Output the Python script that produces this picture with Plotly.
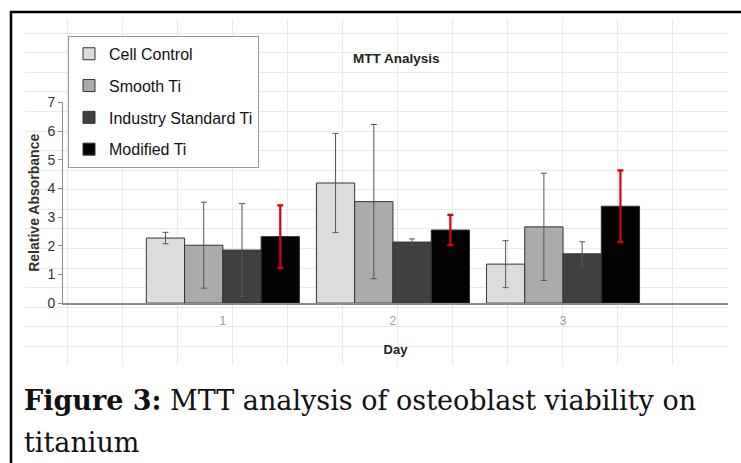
import plotly.graph_objects as go

# ---- data ----
days = ["1", "2", "3"]
series_names = ["Cell Control", "Smooth Ti", "Industry Standard Ti", "Modified Ti"]
cell_control = [2.27, 4.19, 1.36]
cell_control_err = [0.20, 1.73, 0.82]
smooth_ti = [2.02, 3.54, 2.66]
smooth_ti_err = [1.50, 2.69, 1.87]
industry_ti = [1.85, 2.13, 1.72]
industry_ti_err = [1.62, 0.11, 0.42]
modified_ti = [2.32, 2.55, 3.38]
modified_ti_err = [1.09, 0.53, 1.25]
y_ticks = [0, 1, 2, 3, 4, 5, 6, 7]

W, H = 741, 463
def px_x(p):
    return p / W
def px_y(p):
    # compensate the slight vertical squeeze of the photographed page
    q = (p - 7.1) / 0.967
    return 1 - q / H

values = [cell_control, smooth_ti, industry_ti, modified_ti]
errors = [cell_control_err, smooth_ti_err, industry_ti_err, modified_ti_err]
fills = ["#dcdcdc", "#ababab", "#404040", "#030303"]
err_colors = ["#555555", "#555555", "#555555", "#d8000e"]
err_thick = [1, 1, 1, 2.2]

fig = go.Figure()
# invisible trace so the background grid subplot is always built
fig.add_trace(go.Scatter(x=[None], y=[None], xaxis="x", yaxis="y",
                         showlegend=False, hoverinfo="skip"))
for i, name in enumerate(series_names):
    fig.add_trace(go.Bar(
        x=days, y=values[i], name=name,
        xaxis="x2", yaxis="y2",
        legendgroup=name,
        marker=dict(color=fills[i], line=dict(color="#333333", width=1)),
        error_y=dict(type="data", array=errors[i], visible=True,
                     color=err_colors[i], thickness=err_thick[i], width=3),
    ))

fig.update_layout(
    width=W, height=H,
    margin=dict(l=0, r=0, t=0, b=0),
    paper_bgcolor="white",
    plot_bgcolor="rgba(0,0,0,0)",
    barmode="group", bargap=0.1, bargroupgap=0,
    showlegend=True,
    legend=dict(
        x=px_x(68), y=px_y(35), xanchor="left", yanchor="top",
        bgcolor="white", bordercolor="#9a9a9a", borderwidth=1,
        font=dict(family="Liberation Sans", size=16, color="#111111"),
        tracegroupgap=8, itemwidth=30,
    ),
    # background paper grid
    xaxis=dict(domain=[px_x(25), px_x(728)], range=[-0.78, 12], dtick=1, tick0=0,
               showgrid=True, gridcolor="#e9e9e9", gridwidth=1.2,
               showticklabels=False, zeroline=False, showline=False, ticks="", fixedrange=True),
    yaxis=dict(domain=[px_y(365), px_y(18)], range=[-2.97, 14.73], dtick=1, tick0=0,
               showgrid=True, gridcolor="#e9e9e9", gridwidth=1.2,
               showticklabels=False, zeroline=False, showline=False, ticks="", fixedrange=True),
    # data axes
    xaxis2=dict(domain=[px_x(63), px_x(728)], anchor="y2", type="category",
                range=[-0.94, 2.97], showgrid=False, zeroline=False,
                showline=True, linecolor="#8c8c8c", linewidth=2, ticks="",
                tickfont=dict(family="Liberation Sans", size=12, color="#9a9a9a"),
                ticklabelstandoff=5,
                title=dict(text="<b>Day</b>", standoff=18,
                           font=dict(family="Liberation Sans", size=13, color="#222222"))),
    yaxis2=dict(domain=[px_y(302.7), px_y(101.7)], anchor="x2", range=[0, 7],
                tickmode="array", tickvals=y_ticks,
                showgrid=False, zeroline=False,
                showline=True, linecolor="#8c8c8c", linewidth=1,
                ticks="outside", ticklen=4, tickcolor="#8c8c8c",
                tickfont=dict(family="Liberation Sans", size=14, color="#333333"),
                title=dict(text="<b>Relative Absorbance</b>", standoff=4,
                           font=dict(family="Liberation Sans", size=14, color="#333333"))),
    annotations=[
        dict(text="<b>MTT Analysis</b>", xref="paper", yref="paper",
             x=px_x(397), y=px_y(58), xanchor="center", yanchor="middle", showarrow=False,
             font=dict(family="Liberation Sans", size=13.5, color="#222222")),
        dict(text="<b>Figure 3:</b> MTT analysis of osteoblast viability on",
             xref="paper", yref="paper", x=px_x(22), y=px_y(400),
             xanchor="left", yanchor="middle", showarrow=False, align="left",
             font=dict(family="DejaVu Serif", size=27, color="#111111")),
        dict(text="titanium",
             xref="paper", yref="paper", x=px_x(22), y=px_y(442),
             xanchor="left", yanchor="middle", showarrow=False, align="left",
             font=dict(family="DejaVu Serif", size=27, color="#111111")),
    ],
    shapes=[
        dict(type="rect", xref="paper", yref="paper",
             x0=px_x(11), x1=1.05, y0=-0.1, y1=px_y(11),
             line=dict(color="black", width=2.5), fillcolor="rgba(0,0,0,0)", layer="above"),
    ],
)

post = (
    "document.documentElement.style.margin='0';"
    "document.documentElement.style.overflow='hidden';"
    "document.body.style.margin='0';"
    "document.body.style.overflow='hidden';"
    "var d=document.getElementById('{plot_id}');"
    "d.style.position='fixed';d.style.top='0px';d.style.left='0px';"
)
fig.write_html("out.html", config={"displayModeBar": False}, post_script=post)
